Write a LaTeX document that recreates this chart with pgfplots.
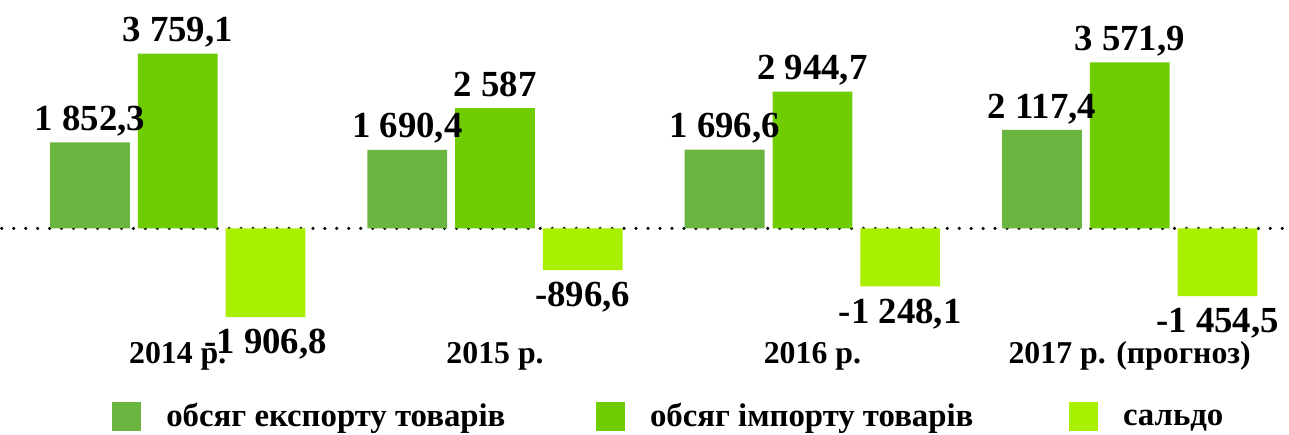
\documentclass[border=0pt]{standalone}
\usepackage{fontspec}
\setmainfont{Liberation Serif}
\usepackage{pgfplots}
\pgfplotsset{compat=1.18}
\definecolor{cexp}{RGB}{106,181,64}
\definecolor{cimp}{RGB}{111,204,0}
\definecolor{csal}{RGB}{168,240,0}
\newcommand{\lstrut}{\rule{0pt}{23bp}}
\begin{document}
\begin{tikzpicture}
\begin{axis}[
  scale only axis, width=1289bp, height=343bp,
  xmin=-0.5547, xmax=3.4965, ymin=-2446, ymax=4914,
  ybar=8bp, bar width=80bp,
  axis line style={draw=none},
  ytick=\empty,
  xtick={0,1,2,3},
  xticklabels={2014 р., 2015 р., 2016 р., 2017 р. (прогноз)},
  major tick length=0pt,
  xtick style={draw=none}, ytick style={draw=none},
  xticklabel style={font=\fontsize{32}{36}\selectfont\bfseries, inner sep=0pt, anchor=base, yshift=-21bp},
  yticklabel style={overlay},
  extra y ticks={0}, extra y tick labels={},
  extra y tick style={grid=major, major grid style={black, line width=3.5bp, dash pattern=on 0bp off 12bp, line cap=round}},
  point meta=explicit symbolic,
  nodes near coords,
  every node near coord/.append style={font=\fontsize{37}{42}\selectfont\bfseries, inner sep=0pt, anchor=base, yshift=12bp},
  legend style={draw=none, fill=none, at={(axis description cs:0.5,0)}, anchor=north, xshift=23.5bp, yshift=-60bp,
    legend columns=3, inner sep=0pt, font=\fontsize{33}{38}\selectfont\bfseries,
    nodes={inner sep=0pt},
    /tikz/every odd column/.append style={column sep=25bp}},
  every axis plot post/.append style={legend image code/.code={\path (0bp,-19bp); \fill[##1,draw=none] (0bp,-16bp) rectangle (29bp,13bp);}},
]
\addplot[fill=cexp, draw=none] coordinates {(0,1852.3) [1 852,3] (1,1690.4) [1 690,4] (2,1696.6) [1 696,6] (3,2117.4) [2 117,4]};
\addlegendentry{\lstrut обсяг експорту товарів\hspace*{91bp}}
\addplot[fill=cimp, draw=none] coordinates {(0,3759.1) [3 759,1] (1,2587) [2 587] (2,2944.7) [2 944,7] (3,3571.9) [3 571,9]};
\addlegendentry{\lstrut обсяг імпорту товарів\hspace*{96bp}}
\addplot[fill=csal, draw=none, every node near coord/.append style={yshift=-49bp}] coordinates {(0,-1906.8) [-1 906,8] (1,-896.6) [-896,6] (2,-1248.1) [-1 248,1] (3,-1454.5) [-1 454,5]};
\addlegendentry{\lstrut сальдо}
\end{axis}
\end{tikzpicture}
\end{document}
